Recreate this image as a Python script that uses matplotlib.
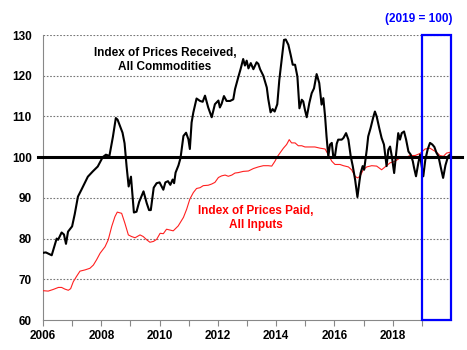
# -- coding: utf-8 --
"""
Prices received vs prices paid, 2006-2019 (2019 = 100)
"""

import matplotlib
matplotlib.use("Agg")
import matplotlib.pyplot as plt
from matplotlib import font_manager
from matplotlib.patches import Rectangle

# Font: Arial Narrow look-alike if available
try:
    font_manager.findfont("Liberation Sans Narrow", fallback_to_default=False)
    famille = "Liberation Sans Narrow"
    fs = 10
except Exception:
    famille = "Liberation Sans"
    fs = 8.5
plt.rcParams["font.family"] = [famille, "DejaVu Sans"]
plt.rcParams["font.weight"] = "bold"

# Index of Prices Received, All Commodities
recus_annees = [
    2006.00, 2006.10, 2006.30, 2006.47, 2006.52, 2006.64, 2006.72, 2006.79, 2006.86, 2007.00,
    2007.09, 2007.20, 2007.32, 2007.54, 2007.71, 2007.88, 2008.05, 2008.16, 2008.28, 2008.40,
    2008.50, 2008.56, 2008.73, 2008.80, 2008.87, 2008.94, 2009.02, 2009.12, 2009.21, 2009.30,
    2009.45, 2009.56, 2009.64, 2009.70, 2009.80, 2009.90, 2010.00, 2010.13, 2010.20, 2010.29,
    2010.37, 2010.45, 2010.50, 2010.55, 2010.65, 2010.72, 2010.78, 2010.82, 2010.91, 2010.99,
    2011.04, 2011.10, 2011.16, 2011.27, 2011.39, 2011.48, 2011.56, 2011.67, 2011.79, 2011.90,
    2012.02, 2012.07, 2012.13, 2012.21, 2012.30, 2012.42, 2012.53, 2012.59, 2012.70, 2012.78,
    2012.87, 2012.93, 2012.99, 2013.05, 2013.13, 2013.22, 2013.33, 2013.39, 2013.45, 2013.56,
    2013.68, 2013.73, 2013.81, 2013.88, 2013.95, 2014.04, 2014.11, 2014.19, 2014.27, 2014.33,
    2014.42, 2014.50, 2014.57, 2014.65, 2014.73, 2014.80, 2014.88, 2014.93, 2014.99, 2015.05,
    2015.14, 2015.22, 2015.30, 2015.39, 2015.48, 2015.56, 2015.62, 2015.68, 2015.73, 2015.79,
    2015.85, 2015.91, 2015.96, 2016.02, 2016.08, 2016.13, 2016.25, 2016.31, 2016.40, 2016.48,
    2016.56, 2016.63, 2016.71, 2016.79, 2016.86, 2016.90, 2016.97, 2017.02, 2017.11, 2017.16,
    2017.24, 2017.34, 2017.39, 2017.45, 2017.54, 2017.62, 2017.70, 2017.79, 2017.85, 2017.91,
    2017.97, 2018.05, 2018.11, 2018.19, 2018.25, 2018.31, 2018.39, 2018.46, 2018.54, 2018.62,
    2018.69, 2018.73, 2018.80, 2018.88, 2018.94, 2018.99, 2019.05, 2019.12, 2019.20, 2019.28,
    2019.36, 2019.43, 2019.50, 2019.57, 2019.64, 2019.73, 2019.81, 2019.90, 2019.96,
]
recus_valeurs = [
    76.5, 76.6, 75.9, 80.0, 79.7, 81.5, 81.0, 78.7, 81.7, 83.0,
    86.0, 90.3, 92.0, 95.2, 96.5, 97.7, 100.0, 100.6, 100.3, 105.0,
    109.6, 109.2, 106.0, 103.4, 97.7, 92.8, 95.2, 86.4, 86.6, 89.0,
    91.6, 88.7, 87.0, 87.0, 92.5, 93.6, 93.8, 92.0, 93.8, 94.1,
    93.2, 94.5, 93.6, 96.2, 98.0, 99.8, 103.0, 105.2, 106.0, 104.4,
    102.0, 108.5, 111.0, 114.4, 113.8, 113.6, 115.1, 112.2, 109.8, 113.0,
    113.9, 112.2, 113.1, 115.0, 113.8, 113.8, 114.2, 116.7, 119.6, 121.6,
    124.1, 122.5, 123.7, 121.8, 123.1, 121.6, 123.3, 122.9, 121.6, 120.0,
    117.1, 114.3, 111.0, 111.8, 111.2, 113.0, 119.0, 123.9, 128.8, 128.9,
    127.6, 125.1, 122.7, 122.7, 119.8, 112.0, 114.1, 113.7, 111.6, 109.8,
    113.3, 115.7, 116.9, 120.4, 118.2, 112.9, 114.5, 110.0, 105.1, 100.2,
    103.1, 103.5, 100.2, 100.3, 103.3, 104.3, 104.3, 104.7, 105.9, 104.3,
    100.2, 97.8, 94.5, 90.2, 94.1, 96.1, 97.8, 96.9, 101.8, 105.1,
    107.1, 110.0, 111.2, 110.0, 107.1, 104.7, 103.1, 97.8, 101.8, 102.6,
    100.2, 96.1, 100.2, 105.9, 104.3, 105.9, 106.3, 104.3, 101.4, 100.6,
    99.0, 97.5, 95.3, 98.6, 100.6, 98.0, 95.3, 99.4, 101.9, 103.5,
    103.1, 102.5, 101.1, 100.2, 97.8, 94.9, 98.0, 100.2, 100.6,
]

# Index of Prices Paid, All Inputs
payes_annees = [
    2006.00, 2006.18, 2006.35, 2006.53, 2006.64, 2006.75, 2006.87, 2006.95, 2007.04, 2007.16,
    2007.27, 2007.44, 2007.61, 2007.73, 2007.84, 2007.96, 2008.13, 2008.24, 2008.36, 2008.47,
    2008.55, 2008.70, 2008.81, 2008.93, 2009.04, 2009.16, 2009.33, 2009.44, 2009.56, 2009.67,
    2009.79, 2009.90, 2010.02, 2010.13, 2010.24, 2010.47, 2010.64, 2010.82, 2010.93, 2011.04,
    2011.16, 2011.27, 2011.39, 2011.50, 2011.67, 2011.79, 2011.90, 2012.02, 2012.13, 2012.25,
    2012.36, 2012.48, 2012.59, 2012.70, 2012.87, 2013.05, 2013.22, 2013.39, 2013.56, 2013.73,
    2013.85, 2013.96, 2014.05, 2014.13, 2014.25, 2014.36, 2014.45, 2014.53, 2014.65, 2014.76,
    2014.88, 2014.99, 2015.16, 2015.33, 2015.51, 2015.68, 2015.79, 2015.91, 2016.02, 2016.19,
    2016.31, 2016.48, 2016.59, 2016.71, 2016.79, 2016.88, 2016.99, 2017.11, 2017.28, 2017.45,
    2017.62, 2017.74, 2017.91, 2018.08, 2018.25, 2018.42, 2018.59, 2018.77, 2018.94, 2019.11,
    2019.28, 2019.39, 2019.51, 2019.62, 2019.74, 2019.85, 2019.97,
]
payes_valeurs = [
    67.2, 67.1, 67.5, 68.0, 68.0, 67.6, 67.3, 67.7, 69.4, 70.8,
    72.0, 72.3, 72.7, 73.5, 74.8, 76.4, 78.0, 79.7, 83.0, 85.4,
    86.5, 86.2, 83.8, 80.9, 80.5, 80.2, 80.9, 80.5, 79.7, 79.1,
    79.3, 79.8, 81.3, 81.2, 82.3, 81.9, 83.1, 85.2, 87.2, 89.7,
    91.3, 92.3, 92.5, 93.0, 93.1, 93.4, 93.8, 95.0, 95.4, 95.6,
    95.3, 95.6, 96.1, 96.2, 96.5, 96.6, 97.2, 97.6, 97.9, 97.9,
    97.8, 99.0, 100.2, 101.0, 102.2, 103.1, 104.3, 103.5, 103.5, 102.8,
    102.8, 102.5, 102.5, 102.5, 102.2, 102.0, 100.6, 99.0, 98.2, 98.2,
    97.9, 97.6, 96.9, 95.3, 94.9, 95.3, 96.9, 97.6, 97.9, 97.8,
    96.9, 97.6, 98.6, 99.0, 99.8, 99.8, 100.4, 100.4, 100.9, 102.0,
    102.2, 101.7, 101.2, 100.4, 100.2, 101.0, 101.2,
]

annees_ticks = list(range(2006, 2020))
annees_labels = [str(a) if a % 2 == 0 else "" for a in annees_ticks]
y_ticks = [60, 70, 80, 90, 100, 110, 120, 130]

fig = plt.figure(figsize=(4.67, 3.5), dpi=100)
ax = fig.add_axes([0.092, 0.0857, 0.8737, 0.8143])

ax.set_xlim(2006, 2020)
ax.set_ylim(60, 130)

# grille pointillee
for v in y_ticks[1:]:
    ax.axhline(v, color="#777777", lw=0.8, ls=(0, (1.5, 1.5)), zorder=1)

ax.plot(payes_annees, payes_valeurs, color="#ff2020", lw=0.8, zorder=3)
ax.plot(recus_annees, recus_valeurs, color="black", lw=1.5, zorder=4)

# ligne de reference 100
ax.plot([2005.83, 2020.37], [100, 100], color="black", lw=2.2, clip_on=False, zorder=5)

# cadre bleu 2019
ax.add_patch(Rectangle((2019, 60), 1, 70, fill=False, edgecolor="#0000ff",
                       lw=1.6, zorder=6, clip_on=False))
ax.text(2018.9, 134, "(2019 = 100)", color="#0000ff", ha="center", va="center",
        fontsize=fs, fontweight="bold")

ax.text(2010.19, 123.9, "Index of Prices Received,\nAll Commodities", color="black",
        ha="center", va="center", fontsize=fs, fontweight="bold", linespacing=1.25)
ax.text(2013.31, 85.0, "Index of Prices Paid,\nAll Inputs", color="#ff0000",
        ha="center", va="center", fontsize=fs, fontweight="bold", linespacing=1.25)

ax.spines["top"].set_visible(False)
ax.spines["right"].set_visible(False)
ax.spines["left"].set_color("#888888")
ax.spines["bottom"].set_color("#888888")

ax.set_xticks(annees_ticks)
ax.set_xticklabels(annees_labels)
ax.set_yticks(y_ticks)
ax.tick_params(axis="x", direction="out", length=4, color="#888888", pad=3, labelsize=fs)
ax.tick_params(axis="y", length=0, pad=8, labelsize=fs)

plt.savefig("out.png", dpi=100)
